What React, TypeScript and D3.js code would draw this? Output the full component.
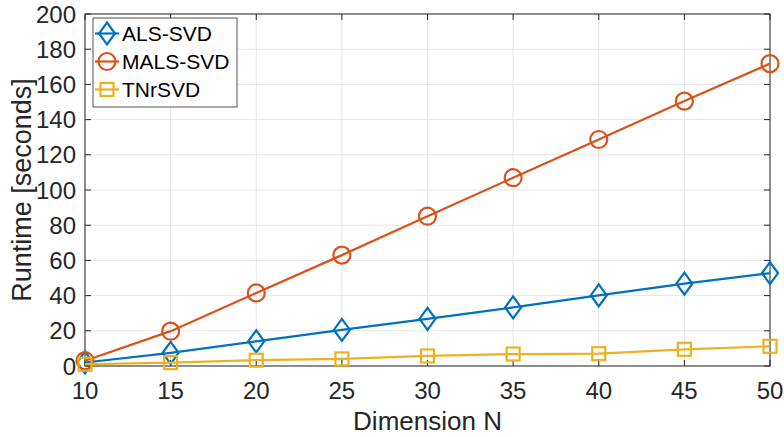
import * as React from "react";
import * as d3 from "d3";

const dims = [10, 15, 20, 25, 30, 35, 40, 45, 50];
const alsSvd = [2, 7.5, 14, 20.5, 26.8, 33.3, 40.1, 46.8, 52.8];
const malsSvd = [3, 19.8, 41.5, 63, 85.1, 107, 128.7, 150.5, 171.8];
const tnrSvd = [1, 1.9, 3.3, 4, 5.7, 6.8, 7, 9.5, 11.2];
const xTicks = [10, 15, 20, 25, 30, 35, 40, 45, 50];
const yTicks = [0, 20, 40, 60, 80, 100, 120, 140, 160, 180, 200];

const series = [
  { name: "ALS-SVD", values: alsSvd, color: "#0072BD", marker: "diamond" },
  { name: "MALS-SVD", values: malsSvd, color: "#D95319", marker: "circle" },
  { name: "TNrSVD", values: tnrSvd, color: "#EDB120", marker: "square" },
];

const W = 784;
const H = 437;
const margin = { left: 85, right: 14, top: 14, bottom: 71 };
const font = "'Liberation Sans', Arial, Helvetica, sans-serif";

const Marker = (p: { kind: string; x: number; y: number; color: string }) => {
  if (p.kind === "diamond") {
    const path = `M${p.x},${p.y - 11} L${p.x + 8},${p.y} L${p.x},${p.y + 11} L${p.x - 8},${p.y} Z`;
    return <path d={path} fill="none" stroke={p.color} strokeWidth={2.2} />;
  }
  if (p.kind === "circle") {
    return <circle cx={p.x} cy={p.y} r={8.5} fill="none" stroke={p.color} strokeWidth={2.2} />;
  }
  return <rect x={p.x - 6.5} y={p.y - 6.5} width={13} height={13} fill="none" stroke={p.color} strokeWidth={2.2} />;
};

export default function App() {
  const x = d3.scaleLinear().domain([10, 50]).range([margin.left, W - margin.right]);
  const y = d3.scaleLinear().domain([0, 200]).range([H - margin.bottom, margin.top]);
  const line = d3.line<number>().x((_, i) => x(dims[i])).y(d => y(d));
  const x0 = x.range()[0], x1 = x.range()[1];
  const y0 = y.range()[0], y1 = y.range()[1];
  const axisColor = "#262626";

  return (
    <svg width={W} height={H} style={{ position: "absolute", left: 0, top: 0 }} fontFamily={font}>
      <rect width={W} height={H} fill="#fff" />
      {xTicks.map(t => (
        <line key={"gx" + t} x1={x(t)} x2={x(t)} y1={y0} y2={y1} stroke="#e6e6e6" strokeWidth={1} />
      ))}
      {yTicks.map(t => (
        <line key={"gy" + t} x1={x0} x2={x1} y1={y(t)} y2={y(t)} stroke="#e6e6e6" strokeWidth={1} />
      ))}
      {xTicks.map(t => (
        <g key={"tx" + t}>
          <line x1={x(t)} x2={x(t)} y1={y0} y2={y0 - 6} stroke={axisColor} />
          <line x1={x(t)} x2={x(t)} y1={y1} y2={y1 + 6} stroke={axisColor} />
          <text x={x(t)} y={y0 + 33} textAnchor="middle" fontSize={24} fill={axisColor}>{t}</text>
        </g>
      ))}
      {yTicks.map(t => (
        <g key={"ty" + t}>
          <line x1={x0} x2={x0 + 6} y1={y(t)} y2={y(t)} stroke={axisColor} />
          <line x1={x1} x2={x1 - 6} y1={y(t)} y2={y(t)} stroke={axisColor} />
          <text x={x0 - 9} y={y(t) + 8.5} textAnchor="end" fontSize={24} fill={axisColor}>{t}</text>
        </g>
      ))}
      <rect x={x0} y={y1} width={x1 - x0} height={y0 - y1} fill="none" stroke={axisColor} strokeWidth={1} />
      {series.map(s => (
        <g key={s.name}>
          <path d={line(s.values) || ""} fill="none" stroke={s.color} strokeWidth={2.2} />
          {s.values.map((v, i) => (
            <Marker key={i} kind={s.marker} x={x(dims[i])} y={y(v)} color={s.color} />
          ))}
        </g>
      ))}
      <text x={(x0 + x1) / 2} y={430} textAnchor="middle" fontSize={26} fill={axisColor}>Dimension N</text>
      <text transform={`translate(31,${(y0 + y1) / 2}) rotate(-90)`} textAnchor="middle" fontSize={27} fill={axisColor}>Runtime [seconds]</text>
      <g>
        <rect x={93} y={18} width={144} height={89} fill="#fff" stroke="#262626" strokeWidth={0.8} />
        {series.map((s, i) => {
          const ly = 33.5 + i * 28;
          return (
            <g key={"lg" + s.name}>
              <line x1={95} x2={119} y1={ly} y2={ly} stroke={s.color} strokeWidth={2.2} />
              <Marker kind={s.marker} x={107} y={ly} color={s.color} />
              <text x={122} y={ly + 7.5} fontSize={21} fill="#000">{s.name}</text>
            </g>
          );
        })}
      </g>
    </svg>
  );
}
